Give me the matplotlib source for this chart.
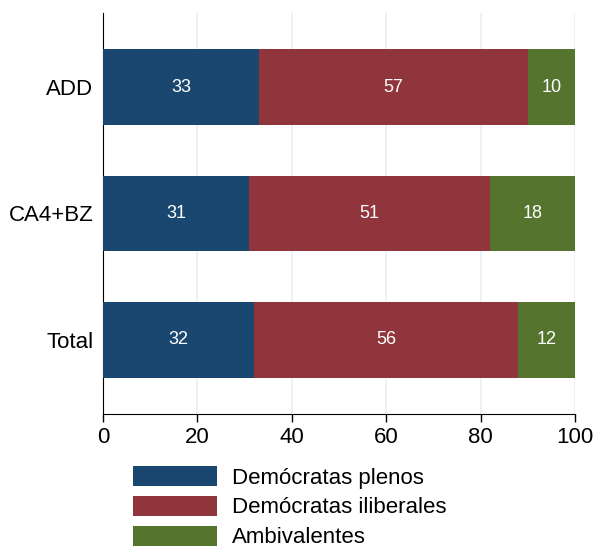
import numpy as np
import matplotlib
matplotlib.use("Agg")
import matplotlib.pyplot as plt

plt.rcParams['font.family'] = ['Liberation Sans', 'DejaVu Sans']

categories = ["ADD", "CA4+BZ", "Total"]
series = ["Demócratas plenos", "Demócratas iliberales", "Ambivalentes"]
plenos = [33, 31, 32]
iliberales = [57, 51, 56]
ambivalentes = [10, 18, 12]
colors = ["#1a476f", "#90353b", "#55752f"]

fig = plt.figure(figsize=(5.95, 5.46), dpi=100)
ax = fig.add_axes([103/595, 1 - 414/546, 472/595, 401/546])

y = np.arange(len(categories))
left = np.zeros(len(categories))
for vals, name, c in zip([plenos, iliberales, ambivalentes], series, colors):
    vals = np.array(vals, dtype=float)
    bars = ax.barh(y, vals, left=left, height=0.6, color=c, label=name,
                   edgecolor="none", zorder=3)
    for b, v in zip(bars, vals):
        ax.text(b.get_x() + b.get_width() / 2, b.get_y() + b.get_height() / 2,
                f"{int(v)}", ha="center", va="center", color="white",
                fontsize=13, zorder=4)
    left += vals

ax.set_xlim(0, 100)
ax.set_ylim(2.585, -0.585)
ax.set_yticks(y)
ax.set_yticklabels(categories, fontsize=16)
ax.set_xticks([0, 20, 40, 60, 80, 100])
ax.tick_params(axis="x", labelsize=16, length=6, width=1)
ax.tick_params(axis="y", length=0, pad=7)
ax.grid(axis="x", color="#e6f0f2", linewidth=1.2, zorder=0)
ax.set_axisbelow(True)
for s in ["top", "right"]:
    ax.spines[s].set_visible(False)
ax.spines["left"].set_color("black")
ax.spines["bottom"].set_color("black")

fig.legend(loc="upper left", bbox_to_anchor=(133/595, 1 - 466/546),
           frameon=False, fontsize=16, handlelength=3.8, handleheight=1.0,
           labelspacing=0.33, handletextpad=0.65, borderaxespad=0,
           borderpad=0)

fig.savefig("out.png", dpi=100)
